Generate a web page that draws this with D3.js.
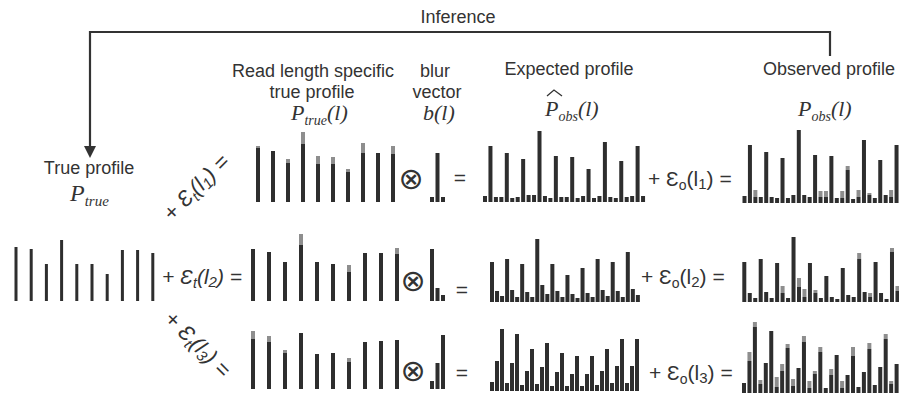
<!DOCTYPE html>
<html>
<head>
<meta charset="utf-8">
<script src="https://cdn.jsdelivr.net/npm/d3@7"></script>
<style>
  body { margin: 0; background: #fff; }
  svg { display: block; }
  text { font-family: "Liberation Sans", Arial, sans-serif; fill: #333; }
  .math { font-family: "Liberation Serif", "Times New Roman", serif; font-style: italic; }
</style>
</head>
<body>
<svg id="chart" width="899" height="395"></svg>
<script>
// values (bar heights, arbitrary units)
const trueProfile = [54, 52, 37, 61, 37, 37, 27, 51, 51, 48];

const readLenDark1 = [54, 51, 39, 58, 38, 38, 30, 49, 49, 48];
const readLenNoise1 = [2, 0, 4, 12, 8, 7, 3, 10, 0, 8];
const readLenDark2 = [52, 49, 39, 56, 39, 37, 29, 48, 48, 47];
const readLenNoise2 = [0, 0, 0, 11, 0, 0, 7, 0, 0, 6];
const readLenDark3 = [50, 47, 36, 56, 35, 36, 27, 47, 48, 49];
const readLenNoise3 = [8, 6, 3, 0, 0, 0, 4, 0, 0, 0];

const blur1 = [5, 49, 5];
const blur2 = [52, 13, 6];
const blur3 = [8, 26, 54];

const expected1 = [6, 56, 5, 5, 49, 4, 5, 43, 7, 7, 71, 6, 4, 46, 5, 5, 45, 4, 6, 33, 4, 6, 60, 5, 4, 41, 5, 6, 56, 6];
const expected2 = [40, 11, 6, 43, 12, 5, 38, 10, 5, 63, 17, 8, 38, 11, 5, 27, 8, 4, 34, 9, 5, 43, 12, 6, 40, 11, 5, 50, 13, 7];
const expected3 = [9, 30, 62, 8, 28, 57, 6, 20, 42, 7, 24, 48, 5, 19, 38, 5, 17, 35, 5, 17, 35, 6, 20, 42, 8, 25, 52, 8, 25, 52];

const observedDark1 = [7, 58, 6, 6, 51, 6, 5, 45, 5, 8, 73, 8, 6, 48, 6, 6, 47, 5, 5, 33, 4, 6, 63, 8, 5, 43, 8, 6, 58, 6];
const observedNoise1 = [0, 0, 7, 0, 0, 0, 0, 0, 0, 0, 0, 0, 0, 0, 6, 6, 0, 0, 7, 4, 0, 7, 0, 2, 0, 0, 0, 7, 0, 0];
const observedDark2 = [40, 9, 4, 43, 10, 4, 39, 9, 4, 65, 15, 5, 39, 9, 4, 26, 5, 3, 34, 7, 5, 43, 10, 5, 40, 9, 3, 50, 11, 5];
const observedNoise2 = [0, 0, 0, 0, 0, 0, 0, 7, 0, 0, 9, 8, 0, 3, 0, 0, 0, 0, 0, 0, 0, 6, 0, 4, 0, 0, 0, 4, 5, 0];
const observedDark3 = [10, 32, 66, 9, 30, 62, 6, 22, 45, 7, 25, 51, 5, 19, 41, 5, 18, 38, 5, 18, 37, 6, 21, 44, 8, 26, 54, 9, 29, 55];
const observedNoise3 = [0, 9, 5, 4, 0, 0, 10, 7, 4, 7, 0, 6, 7, 3, 5, 0, 6, 0, 7, 0, 9, 0, 0, 6, 0, 0, 5, 3, 0, 0];

const DARK = "#2e2e2e";
const GRAY = "#8e8e8e";

const svg = d3.select("#chart");

// one little bar chart: x by index, y by value
function bars(dark, noise, o) {
  const n = dark.length;
  const x = d3.scaleLinear().domain([0, n - 1]).range([o.x0, o.x0 + o.step * (n - 1)]);
  const y = d3.scaleLinear().domain([0, 80]).range([o.bottom, o.bottom - 80]);
  const g = svg.append("g");
  g.selectAll("rect.dark").data(dark).join("rect")
    .attr("class", "dark")
    .attr("x", (d, i) => x(i) - o.w / 2)
    .attr("width", o.w)
    .attr("y", d => y(d))
    .attr("height", d => y(0) - y(d))
    .attr("fill", DARK);
  if (noise) {
    g.selectAll("rect.noise").data(noise).join("rect")
      .attr("class", "noise")
      .attr("x", (d, i) => x(i) - o.w / 2)
      .attr("width", o.w)
      .attr("y", (d, i) => y(dark[i] + d))
      .attr("height", (d, i) => y(dark[i]) - y(dark[i] + d))
      .attr("fill", GRAY);
  }
}

bars(trueProfile, null, {x0: 16, step: 15.2, bottom: 301, w: 3});

bars(readLenDark1, readLenNoise1, {x0: 258, step: 15, bottom: 202, w: 4});
bars(readLenDark2, readLenNoise2, {x0: 253, step: 16, bottom: 301, w: 4});
bars(readLenDark3, readLenNoise3, {x0: 253, step: 16, bottom: 389, w: 4});

bars(blur1, null, {x0: 432, step: 5.5, bottom: 202, w: 4});
bars(blur2, null, {x0: 432, step: 5.5, bottom: 301, w: 4});
bars(blur3, null, {x0: 432, step: 5.5, bottom: 389, w: 4});

bars(expected1, null, {x0: 485, step: 5.45, bottom: 202, w: 4});
bars(expected2, null, {x0: 492, step: 5.03, bottom: 302, w: 4});
bars(expected3, null, {x0: 492, step: 5.0, bottom: 391, w: 4});

bars(observedDark1, observedNoise1, {x0: 744.5, step: 5.43, bottom: 203, w: 4});
bars(observedDark2, observedNoise2, {x0: 744.3, step: 5.47, bottom: 302, w: 4});
bars(observedDark3, observedNoise3, {x0: 744, step: 5.45, bottom: 393, w: 4});

// labels
function label(str, x, y, anchor) {
  svg.append("text").attr("x", x).attr("y", y)
    .attr("text-anchor", anchor || "middle")
    .style("font-size", "18px")
    .text(str);
}
label("Inference", 458, 23);
label("True profile", 89, 174);
label("Read length specific", 313, 77);
label("true profile", 312, 98);
label("blur", 435, 77);
label("vector", 437, 98);
label("Expected profile", 569, 75);
label("Observed profile", 829, 75);

// math symbols: P with subscript and optional (l)
function mathP(x, y, base, sub, arg, size) {
  const fs = size || 22;
  const t = svg.append("text").attr("class", "math").attr("x", x).attr("y", y)
    .style("font-size", fs + "px");
  t.append("tspan").text(base);
  if (sub) t.append("tspan").attr("dy", 5).style("font-size", Math.round(fs * 0.64) + "px").text(sub);
  if (arg) t.append("tspan").attr("dy", sub ? -5 : 0).text(arg);
  return t;
}
mathP(70, 201, "P", "true", null, 24);
mathP(291, 120, "P", "true", "(l)");
mathP(423, 120, "b", null, "(l)");
mathP(545, 116, "P", "obs", "(l)");
mathP(798, 116, "P", "obs", "(l)");
// hat over the expected P
svg.append("path")
  .attr("d", "M547,96 L554,90 L562,96")
  .attr("fill", "none").attr("stroke", "#333").attr("stroke-width", 1.3);

// inference bracket and arrow
svg.append("path")
  .attr("d", "M90,150 V32 H830 V56")
  .attr("fill", "none").attr("stroke", "#333").attr("stroke-width", 2.2);
svg.append("path")
  .attr("d", "M84,146 L96,146 L90,158 Z")
  .attr("fill", "#333");

// epsilon equations
function eps(x, y, sub, idx, o) {
  const fs = o.size || 21;
  const t = svg.append("text").attr("x", x).attr("y", y)
    .style("font-size", fs + "px")
    .style("font-style", o.italic ? "italic" : "normal");
  if (o.rotate) t.attr("transform", `rotate(${o.rotate},${x},${y})`);
  t.append("tspan").text("+ Ɛ");
  t.append("tspan").attr("dy", 4).style("font-size", Math.round(fs * 0.65) + "px").text(sub);
  t.append("tspan").attr("dy", -4).text("(l");
  t.append("tspan").attr("dy", 3).style("font-size", Math.round(fs * 0.7) + "px").text(idx);
  t.append("tspan").attr("dy", -3).text(") =");
}
eps(648, 186, "o", "1", {});
eps(641, 284, "o", "2", {});
eps(649, 380, "o", "3", {});
eps(162, 284, "t", "2", {italic: true});
eps(172, 222, "t", "1", {italic: true, rotate: -45, size: 22});
eps(163, 320, "t", "3", {italic: true, rotate: 45, size: 22});

// convolution signs and equals after blur vector
[[411, 178], [413, 280], [413, 370]].forEach(p => {
  svg.append("text").attr("x", p[0]).attr("y", p[1])
    .attr("text-anchor", "middle").attr("dominant-baseline", "central")
    .style("font-family", "DejaVu Sans").style("font-size", "30px")
    .text("⊗");
});
[[460, 177], [462, 289], [462, 372]].forEach(p => {
  svg.append("text").attr("x", p[0]).attr("y", p[1])
    .attr("text-anchor", "middle").attr("dominant-baseline", "central")
    .style("font-size", "21px")
    .text("=");
});
</script>
</body>
</html>
